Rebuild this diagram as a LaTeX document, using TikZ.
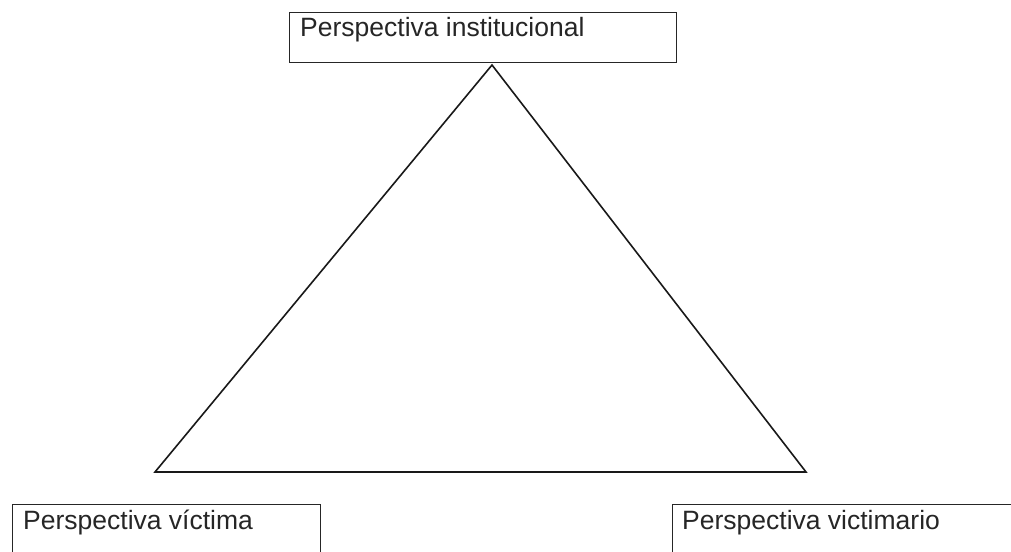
\documentclass[tikz,border=0pt]{standalone}
\usepackage{fontspec}
\setmainfont{Liberation Sans}
\begin{document}
\begin{tikzpicture}[x=1pt,y=-1pt,
  box/.style={draw=black!85,line width=1.1pt,inner sep=0pt,anchor=north west},
  lbl/.style={anchor=base west,inner sep=0pt,font=\fontsize{26.5}{30}\selectfont,text=black!85},
  edge/.style={draw=black!90,line width=1.6pt,line join=miter}]
\useasboundingbox (0,0) rectangle (1011,551);
\clip (0,0) rectangle (1011,551);
\fill[white] (0,0) rectangle (1011,551);
% boxes
\node[box,minimum width=387pt,minimum height=50pt] (inst) at (289,12) {};
\node[lbl] (instl) at (300,37) {Perspectiva institucional};
\node[box,minimum width=308pt,minimum height=80pt] (vic) at (12,504) {};
\node[lbl] (vicl) at (23,529) {Perspectiva víctima};
\node[box,minimum width=380pt,minimum height=80pt] (vim) at (672,504) {};
\node[lbl] (viml) at (682,529) {Perspectiva victimario};
% triangle
\coordinate (apex) at (492,65);
\coordinate (bl) at (155,472);
\coordinate (br) at (806,472);
\draw[edge] (apex) -- (bl) -- (br) -- cycle;
\end{tikzpicture}
\end{document}
